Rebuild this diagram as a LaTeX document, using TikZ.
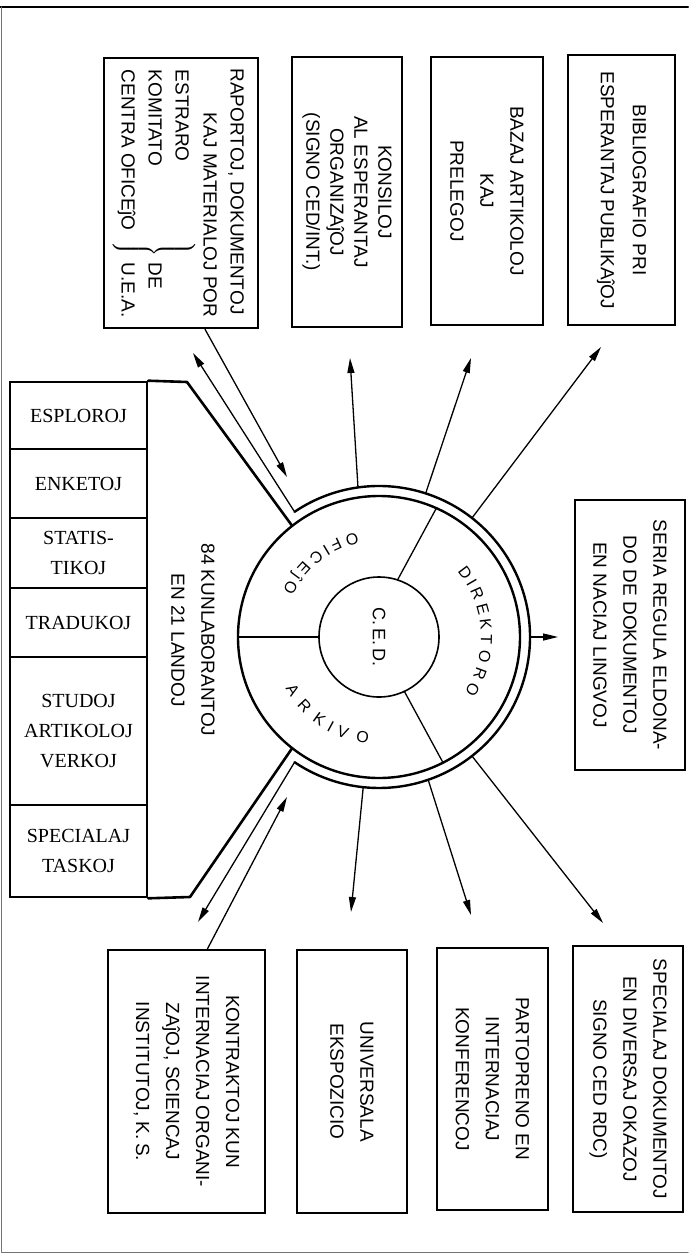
\documentclass[tikz,border=0pt]{standalone}
\usepackage{fontspec}
\usepackage{amsmath}
\usetikzlibrary{arrows.meta}
\usetikzlibrary{decorations.text}
\newfontfamily\lbsans{Liberation Sans}
\newfontfamily\lbserif{Liberation Serif}

\begin{document}
\begin{tikzpicture}[x=1pt, y=1pt, line cap=round, line join=round,
  >={Triangle[length=15pt,width=7pt]},
  blockbox/.style={draw, line width=2.6pt, line join=miter, rotate=-90, align=center,
    inner sep=0pt, font=\lbsans\fontsize{19}{30}\selectfont},
  cell/.style={draw, line width=2.6pt, line join=miter, minimum width=137pt, inner sep=0pt,
    align=center, font=\lbserif\fontsize{20}{30}\selectfont},
  ringtxt/.style={decorate, decoration={text effects along path, text={#1},
    text effects/.cd, text along path, fit text to path,
    characters={inner sep=0pt, font=\lbsans\fontsize{16}{16}\selectfont}}},
  flow/.style={->, line width=1.3pt},
  wall/.style={line width=2.6pt}]
  \useasboundingbox (0,0) rectangle (688,-1255);
  \draw[line width=2.4pt] (0,-7) -- (688,-7);
  \draw[line width=1pt, black!55] (1.5,-7) -- (1.5,-1252) -- (688,-1252);

  \node[blockbox, minimum width=270pt, minimum height=154pt,
    font=\lbsans\fontsize{19}{27}\selectfont] (raport) at (181,-193)
    {\begin{tabular}{@{}l@{}}
      RAPORTOJ, DOKUMENTOJ\\
      \multicolumn{1}{@{}r@{}}{KAJ MATERIALOJ POR}\\
      \(\left.\begin{tabular}{@{}l@{}}ESTRARO\\ KOMITATO\\ CENTRA OFICEĵO\end{tabular}\hspace{11pt}\right\}\)%
      \hspace{6pt}\begin{tabular}{@{}l@{}}\\ DE\\ U.E.A.\end{tabular}
    \end{tabular}};
  \node[blockbox, minimum width=270pt, minimum height=110pt,
    font=\lbsans\fontsize{19}{24}\selectfont] (konsil) at (347,-192)
    {KONSILOJ\\AL ESPERANTAJ\\ORGANIZAĵOJ\\(SIGNO CED/INT.)};
  \node[blockbox, minimum width=268pt, minimum height=112pt] (bazaj) at (487,-191)
    {BAZAJ ARTIKOLOJ\\KAJ\\PRELEGOJ};
  \node[blockbox, minimum width=270pt, minimum height=107pt,
    font=\lbsans\fontsize{19}{32}\selectfont] (bibl) at (621.5,-190)
    {BIBLIOGRAFIO PRI\\ESPERANTAJ PUBLIKAĵOJ};
  \node[blockbox, minimum width=270pt, minimum height=110pt] (seria) at (630,-635)
    {SERIA REGULA ELDONA-\\DO DE DOKUMENTOJ\\EN NACIAJ LINGVOJ};
  \node[blockbox, minimum width=263pt, minimum height=157pt] (kontrakt) at (186.5,-1081.5)
    {KONTRAKTOJ KUN\\INTERNACIAJ ORGANI-\\ZAĵOJ, SCIENCAJ\\INSTITUTOJ, K.\,S.};
  \node[blockbox, minimum width=263pt, minimum height=110pt] (univ) at (352,-1081.5)
    {UNIVERSALA\\EKSPOZICIO};
  \node[blockbox, minimum width=262pt, minimum height=111pt] (partop) at (492.5,-1079)
    {PARTOPRENO EN\\INTERNACIAJ\\KONFERENCOJ};
  \node[blockbox, minimum width=266pt, minimum height=110pt] (specdok) at (628,-1079)
    {SPECIALAJ DOKUMENTOJ\\EN DIVERSAJ OKAZOJ\\SIGNO CED RDC)};

  \node[cell, minimum height=67pt] (esplor) at (78.5,-415.5) {ESPLOROJ};
  \node[cell, minimum height=69pt] (enket) at (78.5,-483.5) {ENKETOJ};
  \node[cell, minimum height=70pt] (statis) at (78.5,-553) {STATIS-\\TIKOJ};
  \node[cell, minimum height=69pt] (traduk) at (78.5,-622.5) {TRADUKOJ};
  \node[cell, minimum height=148pt] (studoj) at (78.5,-731) {STUDOJ\\ARTIKOLOJ\\VERKOJ};
  \node[cell, minimum height=92pt] (spectask) at (78.5,-851) {SPECIALAJ\\TASKOJ};

  \node[rotate=-90, align=center, font=\lbsans\fontsize{19}{30}\selectfont] (kunlab)
    at (193,-640) {84 KUNLABORANTOJ\\EN 21 LANDOJ};

  \node[circle, minimum size=302pt, inner sep=0pt, outer sep=0pt] (ring) at (379,-637) {};
  \node[circle, draw, line width=2.4pt, minimum size=282pt, inner sep=0pt, outer sep=0pt]
    (ringin) at (379,-637) {};
  \node[circle, draw, line width=1.6pt, minimum size=120pt, inner sep=0pt, outer sep=0pt,
    font=\lbsans\fontsize{18}{18}\selectfont] (ced) at (379,-637) {\rotatebox{-90}{C.\,E.\,D.}};
  \draw[line width=2.4pt] (ring.124) arc[start angle=124, end angle=-124, radius=151];
  \draw[line width=1.3pt] (ced.180) -- (ringin.180);
  \draw[line width=1.3pt] (ced.72) -- (ringin.66);
  \draw[line width=1.3pt] (ced.-65) -- (ringin.-63);

  \begin{scope}[shift={(379,-637)}]
    \path[ringtxt={OFICEĵO}] (102:107) arc[start angle=102, end angle=154, radius=107];
    \path[ringtxt={ARKIVO}] (209:107) arc[start angle=209, end angle=264, radius=107];
    \path[ringtxt={DIREKTORO}] (40:102) arc[start angle=40, end angle=-33, radius=102];
  \end{scope}

  \coordinate (topcorner) at (187,-382);
  \coordinate (botcorner) at (190,-897);
  \draw[wall] (esplor.north east) -- (topcorner) -- (ringin.128);
  \draw[wall] (spectask.south east) -- (botcorner) -- (ringin.232);

  \coordinate (traport) at (193,-353);
  \coordinate (tcedtop) at (287,-477);
  \coordinate (tkonsil) at (350,-358);
  \coordinate (tbazaj) at (471,-358);
  \coordinate (tbibl) at (601,-347);
  \coordinate (tseria) at (558,-637);
  \coordinate (tkontrakt) at (198,-922);
  \coordinate (tcedbot) at (287,-797);
  \coordinate (tuniv) at (351,-912);
  \coordinate (tpartop) at (471,-915);
  \coordinate (tspecdok) at (603,-923);

  \draw[flow] (ring.124) -- (traport);
  \draw[flow] (raport.10) -- (tcedtop);
  \draw[flow] (ring.98) -- (tkonsil);
  \draw[flow] (ring.72) -- (tbazaj);
  \draw[flow] (ring.52) -- (tbibl);
  \draw[flow] (ring.0) -- (tseria);
  \draw[flow] (ring.236) -- (tkontrakt);
  \draw[flow] (kontrakt.171) -- (tcedbot);
  \draw[flow] (ring.264) -- (tuniv);
  \draw[flow] (ring.289) -- (tpartop);
  \draw[flow] (ring.308) -- (tspecdok);
\end{tikzpicture}
\end{document}
